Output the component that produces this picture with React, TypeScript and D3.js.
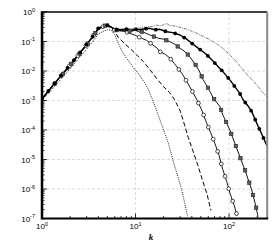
import { useEffect, useRef } from 'react';
import * as d3 from 'd3';

// spectra (k, E(k))
const kDotted = [1, 1.5, 2, 2.5, 3, 3.5, 4, 4.5, 5, 5.5, 6, 6.5, 7.2, 8, 9.5, 11.3, 12.5, 13.8, 16, 18, 20, 22.5, 25, 28, 31, 33.5, 36];
const vDotted = [1.0e-3, 4.2e-3, 0.012, 0.028, 0.055, 0.1, 0.18, 0.22, 0.25, 0.24, 0.17, 0.09, 0.046, 0.028, 0.013, 0.0066, 0.004, 0.0023, 7e-4, 2.5e-4, 1e-4, 3.5e-5, 1e-5, 3e-6, 1e-6, 3.5e-7, 1.2e-7];

const kDashed = [1, 1.5, 2, 2.5, 3, 3.5, 4, 4.5, 5, 5.5, 6, 6.5, 7.5, 8.7, 10.3, 12.1, 14.3, 16.8, 19.8, 23, 26, 30, 33, 36.7, 41, 46, 52, 58, 64];
const vDashed = [1.1e-3, 5.2e-3, 0.015, 0.036, 0.075, 0.14, 0.26, 0.31, 0.33, 0.29, 0.22, 0.14, 0.09, 0.059, 0.035, 0.021, 0.011, 0.0056, 0.003, 0.0019, 1.1e-3, 4.5e-4, 1.7e-4, 5.5e-5, 2e-5, 7e-6, 2e-6, 7e-7, 1.9e-7];

const kOpen = [1, 1.5, 2, 2.5, 3, 3.5, 4, 4.5, 5, 5.5, 6, 7, 8, 8.7, 10, 11.5, 13.1, 15, 17, 18.3, 21, 23.4, 26, 28.7, 32, 35.3, 40, 45, 51, 57.7, 63.7, 70.8, 78.2, 85.6, 94.5, 102.5, 113, 122];
const vOpen = [1.15e-3, 5.4e-3, 0.016, 0.038, 0.078, 0.15, 0.27, 0.32, 0.35, 0.3, 0.24, 0.23, 0.21, 0.19, 0.16, 0.13, 0.11, 0.08, 0.06, 0.045, 0.036, 0.027, 0.018, 0.012, 0.0075, 0.0044, 0.0022, 1.1e-3, 4.8e-4, 1.7e-4, 8e-5, 3.4e-5, 1.4e-5, 4.7e-6, 1.8e-6, 7.1e-7, 2.9e-7, 1.25e-7];

const kSquare = [1, 1.5, 2, 2.5, 3, 3.5, 4, 4.5, 5, 5.5, 6, 7, 8, 9, 10, 11, 12.1, 14, 15.5, 17.6, 20, 23.4, 26.5, 29.9, 33, 36.6, 43, 48, 53, 60, 68, 80, 86, 102, 125, 148, 175, 194, 204];
const vSquare = [1.1e-3, 5.3e-3, 0.0155, 0.037, 0.077, 0.145, 0.27, 0.33, 0.36, 0.31, 0.25, 0.23, 0.25, 0.22, 0.24, 0.21, 0.21, 0.17, 0.15, 0.128, 0.12, 0.098, 0.08, 0.059, 0.048, 0.035, 0.018, 0.01, 0.005, 0.0026, 0.0012, 6.2e-4, 3.2e-4, 1e-4, 1.8e-5, 4.4e-6, 9.3e-7, 2.5e-7, 1.15e-7];

const kFilled = [1, 1.5, 2, 2.5, 3, 3.5, 4, 4.5, 5, 5.5, 6, 7, 8, 9, 10, 11, 12.5, 14.3, 16, 18, 21.6, 25, 29.9, 34, 38, 40, 46, 55.4, 63, 73.8, 86, 102, 115, 131, 142, 160, 175, 198, 225, 257];
const vFilled = [1.15e-3, 5.5e-3, 0.016, 0.039, 0.08, 0.15, 0.28, 0.33, 0.36, 0.31, 0.26, 0.25, 0.26, 0.24, 0.26, 0.25, 0.27, 0.28, 0.25, 0.26, 0.215, 0.2, 0.166, 0.13, 0.1, 0.087, 0.062, 0.04, 0.027, 0.016, 0.0095, 0.005, 0.003, 0.0017, 1.04e-3, 6.5e-4, 4.2e-4, 1.7e-4, 7e-5, 2.7e-5];

const kGray = [1, 1.5, 2, 2.5, 3, 3.5, 4, 4.5, 5, 5.5, 6, 7, 8, 9, 10, 11, 12, 13, 14, 15, 16.9, 18.5, 20, 21.6, 23, 25, 27, 29, 32.5, 36, 40, 44, 49, 55, 61, 67.5, 75, 84, 92, 102, 115, 128, 142, 160, 178, 198, 225, 257];
const vGray = [1.2e-3, 5.6e-3, 0.0165, 0.04, 0.082, 0.155, 0.29, 0.34, 0.37, 0.32, 0.27, 0.26, 0.28, 0.27, 0.29, 0.28, 0.31, 0.3, 0.33, 0.32, 0.36, 0.34, 0.37, 0.41, 0.35, 0.34, 0.33, 0.31, 0.28, 0.26, 0.22, 0.2, 0.166, 0.14, 0.12, 0.098, 0.08, 0.062, 0.048, 0.035, 0.024, 0.016, 0.0108, 0.0068, 0.005, 0.0034, 0.002, 0.0013];

const xTicks = [1, 10, 100];
const xTickExp = ['0', '1', '2'];
const yTicks = [1, 1e-1, 1e-2, 1e-3, 1e-4, 1e-5, 1e-6, 1e-7];
const yTickExp = ['0', '-1', '-2', '-3', '-4', '-5', '-6', '-7'];

export default function App() {
  const ref = useRef<SVGSVGElement>(null);

  useEffect(() => {
    const svg = d3.select(ref.current);
    svg.selectAll('*').remove();

    const left = 42, right = 267.2, top = 12, bottom = 218.5;
    const x = d3.scaleLog().domain([1, 256]).range([left, right]);
    const y = d3.scaleLog().domain([1e-7, 1]).range([bottom, top]);
    const font = 'Liberation Sans, Arial, Helvetica, sans-serif';

    // grid
    const grid = svg.append('g').attr('stroke', '#d4d4d4').attr('stroke-width', 0.8).attr('stroke-dasharray', '3,2');
    yTicks.slice(1, -1).forEach(t => {
      grid.append('line').attr('x1', left).attr('x2', right).attr('y1', y(t)).attr('y2', y(t));
    });
    xTicks.slice(1).forEach(t => {
      grid.append('line').attr('x1', x(t)).attr('x2', x(t)).attr('y1', top).attr('y2', bottom);
    });

    // clip
    svg.append('clipPath').attr('id', 'plotclip')
      .append('rect').attr('x', left).attr('y', top).attr('width', right - left).attr('height', bottom - top);

    const plot = svg.append('g').attr('clip-path', 'url(#plotclip)');
    const line = d3.line<[number, number]>().x(d => x(d[0])).y(d => y(d[1]));
    const zip = (ks: number[], vs: number[]) => ks.map((k, i) => [k, vs[i]] as [number, number]);

    function drawSeries(ks: number[], vs: number[], stroke: string, width: number, dash: string | null) {
      const p = plot.append('path')
        .datum(zip(ks, vs))
        .attr('fill', 'none')
        .attr('stroke', stroke)
        .attr('stroke-width', width)
        .attr('stroke-linejoin', 'round')
        .attr('d', line);
      if (dash) p.attr('stroke-dasharray', dash);
      return p;
    }

    // symbols spaced by distance along the curve (tecplot style skipping)
    function markerPoints(p: d3.Selection<SVGPathElement, any, any, any>, spacing: number, offset: number) {
      const node = p.node() as SVGPathElement;
      const len = node.getTotalLength();
      const pts: DOMPoint[] = [];
      for (let s = offset; s <= len; s += spacing) pts.push(node.getPointAtLength(s));
      return pts;
    }

    drawSeries(kGray, vGray, '#767676', 1, '3,1,1,1');
    drawSeries(kDotted, vDotted, '#000', 0.9, '1,1.2');
    drawSeries(kDashed, vDashed, '#000', 1, '4.5,2.5');

    const pOpen = drawSeries(kOpen, vOpen, '#000', 0.9, null);
    const pSquare = drawSeries(kSquare, vSquare, '#000', 0.9, null);
    const pFilled = drawSeries(kFilled, vFilled, '#000', 1.4, null);

    plot.append('g').selectAll('circle')
      .data(markerPoints(pOpen, 13, 30))
      .join('circle')
      .attr('cx', d => d.x).attr('cy', d => d.y).attr('r', 1.9)
      .attr('fill', '#fff').attr('stroke', '#000').attr('stroke-width', 0.7);

    plot.append('g').selectAll('rect')
      .data(markerPoints(pSquare, 13, 20))
      .join('rect')
      .attr('x', d => d.x - 1.7).attr('y', d => d.y - 1.7).attr('width', 3.4).attr('height', 3.4)
      .attr('fill', '#5e5e5e').attr('stroke', '#222').attr('stroke-width', 0.6);

    plot.append('g').selectAll('circle')
      .data(markerPoints(pFilled, 10, 0))
      .join('circle')
      .attr('cx', d => d.x).attr('cy', d => d.y).attr('r', 1.9)
      .attr('fill', '#000');

    // frame
    svg.append('line').attr('x1', left).attr('x2', right).attr('y1', top).attr('y2', top)
      .attr('stroke', '#000').attr('stroke-width', 1.5);
    svg.append('line').attr('x1', right).attr('x2', right).attr('y1', top).attr('y2', bottom)
      .attr('stroke', '#8a8a8a').attr('stroke-width', 2);

    // ticks
    const ticks = svg.append('g').attr('stroke', '#000').attr('stroke-width', 0.8);
    for (let e = -7; e < 0; e++) {
      for (let m = 1; m < 10; m++) {
        const v = m * Math.pow(10, e);
        const len = m === 1 ? 5 : 2.5;
        ticks.append('line').attr('x1', left).attr('x2', left + len).attr('y1', y(v)).attr('y2', y(v));
      }
    }
    ticks.append('line').attr('x1', left).attr('x2', left + 5).attr('y1', y(1)).attr('y2', y(1));
    for (let e = 0; e < 3; e++) {
      for (let m = 1; m < 10; m++) {
        const v = m * Math.pow(10, e);
        if (v > 256) continue;
        const len = m === 1 ? 5 : 2.5;
        ticks.append('line').attr('x1', x(v)).attr('x2', x(v)).attr('y1', bottom).attr('y2', bottom - len);
      }
    }

    // axes lines
    svg.append('line').attr('x1', left).attr('x2', left).attr('y1', top - 0.75).attr('y2', bottom + 1)
      .attr('stroke', '#000').attr('stroke-width', 2.5);
    svg.append('line').attr('x1', left).attr('x2', right + 1).attr('y1', bottom).attr('y2', bottom)
      .attr('stroke', '#000').attr('stroke-width', 2);

    // tick labels
    yTicks.forEach((t, i) => {
      const txt = svg.append('text')
        .attr('x', 35).attr('y', y(t) + 3)
        .attr('text-anchor', 'end')
        .attr('font-family', font).attr('font-size', 8);
      txt.append('tspan').text('10');
      txt.append('tspan').attr('dy', -3.5).attr('font-size', 5.5).text(yTickExp[i]);
    });
    xTicks.forEach((t, i) => {
      const txt = svg.append('text')
        .attr('x', x(t)).attr('y', bottom + 10.5)
        .attr('text-anchor', 'middle')
        .attr('font-family', font).attr('font-size', 8);
      txt.append('tspan').text('10');
      txt.append('tspan').attr('dy', -3.5).attr('font-size', 5.5).text(xTickExp[i]);
    });

    svg.append('text')
      .attr('x', 151).attr('y', 240)
      .attr('text-anchor', 'middle')
      .attr('font-family', 'Liberation Serif, Times New Roman, serif')
      .attr('font-style', 'italic').attr('font-weight', 'bold')
      .attr('font-size', 9)
      .text('k');
  }, []);

  return (
    <svg ref={ref} width={274} height={244}
      style={{ position: 'absolute', left: 0, top: 0, background: '#fff' }} />
  );
}
